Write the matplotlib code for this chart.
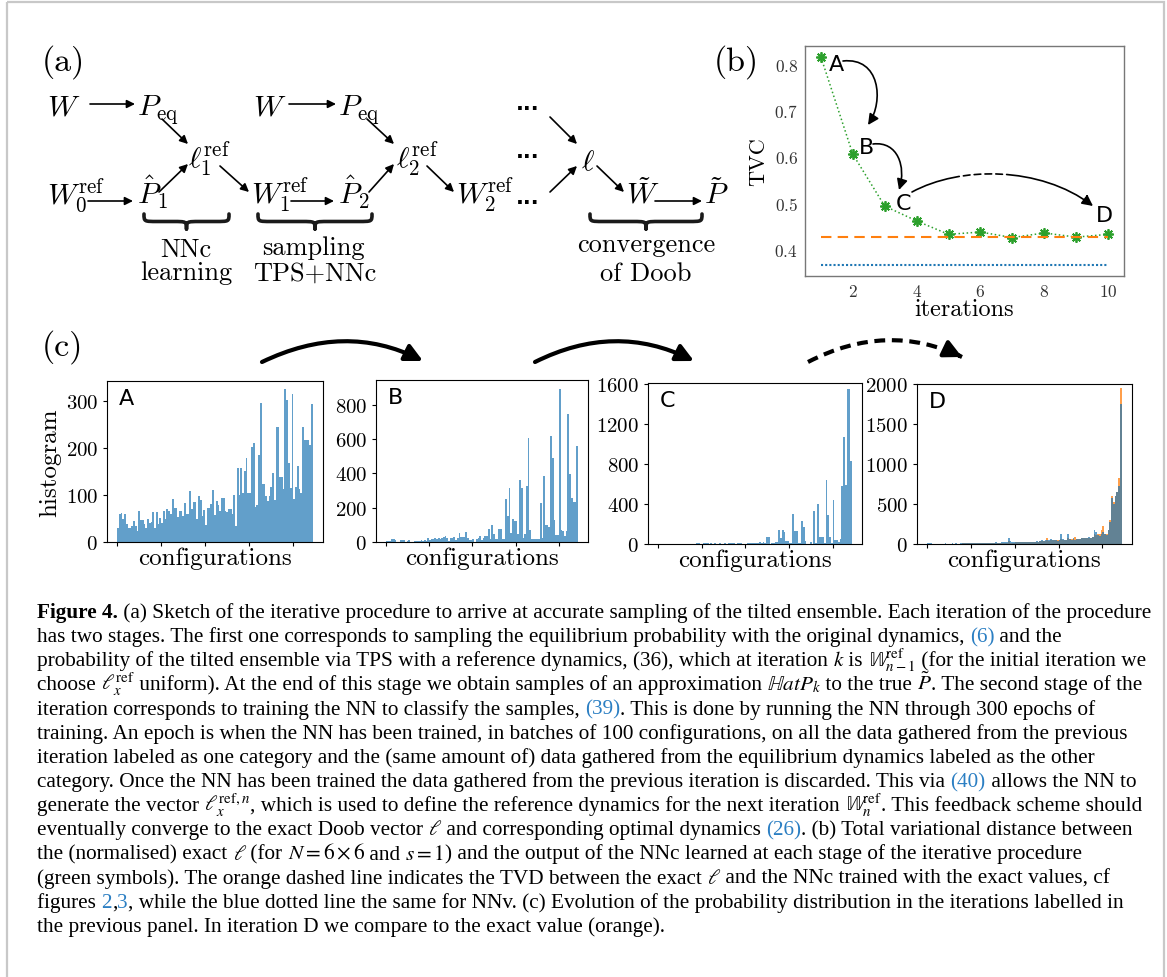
import numpy as np
import matplotlib.pyplot as plt
from matplotlib.patches import FancyArrowPatch, Rectangle, PathPatch
from matplotlib.path import Path

plt.rcParams['font.family'] = 'serif'
plt.rcParams['font.serif'] = ['cmr10', 'DejaVu Serif']
plt.rcParams['mathtext.fontset'] = 'cm'
plt.rcParams['axes.formatter.use_mathtext'] = True

# ---------------- data ----------------
iterations = np.arange(1, 11)
tvc = [0.815, 0.605, 0.493, 0.461, 0.432, 0.437, 0.425, 0.435, 0.426, 0.432]
tvd_nnc = 0.426
tvd_nnv = 0.365

hist_A = [30, 59, 62, 48, 59, 38, 29, 30, 34, 45,
          35, 23, 67, 46, 46, 38, 29, 50, 41, 43,
          63, 30, 63, 38, 52, 40, 65, 48, 70, 66,
          59, 91, 73, 73, 54, 66, 66, 55, 84, 59,
          60, 108, 70, 85, 85, 48, 98, 89, 55, 68,
          36, 72, 72, 82, 110, 57, 87, 78, 66, 94,
          94, 67, 63, 70, 70, 60, 100, 35, 157, 101,
          157, 104, 152, 180, 104, 105, 202, 210, 74, 78,
          185, 296, 123, 123, 99, 87, 99, 118, 146, 89,
          245, 245, 138, 138, 113, 326, 303, 169, 116, 316,
          91, 117, 162, 113, 105, 245, 217, 217, 218, 206,
          293]

hist_B = [5, 5, 5, 17, 17, 12, 2, 2, 10, 10,
          10, 2, 4, 10, 2, 2, 6, 6, 6, 6,
          12, 6, 12, 6, 21, 12, 17, 17, 23, 17,
          23, 17, 23, 29, 33, 21, 6, 21, 21, 29,
          10, 25, 54, 27, 27, 27, 56, 23, 10, 10,
          17, 2, 17, 23, 33, 10, 21, 33, 33, 74,
          17, 97, 45, 17, 17, 74, 74, 17, 16, 249,
          150, 313, 50, 132, 120, 120, 47, 363, 313, 21,
          45, 324, 604, 68, 16, 16, 16, 16, 16, 225,
          25, 383, 101, 101, 87, 616, 491, 128, 39, 39,
          895, 68, 64, 33, 64, 744, 398, 254, 233, 233,
          559]

hist_C = [0, 0, 0, 0, 0, 0, 0, 0, 0, 0,
          0, 0, 0, 0, 0, 0, 0, 0, 0, 0,
          0, 0, 8, 8, 5, 0, 10, 8, 10, 5,
          8, 5, 8, 0, 5, 10, 0, 5, 8, 5,
          8, 12, 15, 8, 5, 10, 8, 8, 3, 5,
          5, 8, 10, 12, 8, 8, 8, 12, 20, 10,
          25, 8, 67, 67, 5, 8, 10, 25, 20, 143,
          60, 143, 120, 30, 30, 10, 8, 303, 127, 127,
          10, 10, 233, 167, 27, 3, 3, 25, 3, 333,
          8, 403, 73, 73, 67, 10, 643, 293, 73, 8,
          443, 43, 43, 17, 53, 577, 1067, 593, 1553, 1553,
          833]

hist_D = [10, 10, 10, 0, 0, 0, 0, 5, 5, 5,
          10, 5, 5, 5, 10, 5, 10, 5, 5, 10,
          10, 10, 15, 10, 10, 15, 10, 10, 15, 10,
          10, 15, 15, 10, 10, 15, 15, 10, 15, 20,
          15, 15, 20, 20, 25, 30, 80, 40, 20, 20,
          20, 25, 25, 20, 25, 30, 20, 25, 30, 30,
          25, 30, 35, 30, 40, 45, 40, 45, 50, 45,
          60, 45, 55, 50, 40, 50, 130, 60, 50, 55,
          120, 60, 55, 70, 50, 60, 65, 60, 70, 75,
          80, 75, 90, 70, 85, 170, 150, 110, 100, 120,
          150, 120, 110, 170, 280, 580, 500, 600, 650, 730,
          1750]

exact_D = [5, 5, 5, 5, 5, 5, 5, 5, 5, 5,
           5, 5, 5, 5, 5, 5, 5, 5, 5, 5,
           8, 8, 8, 8, 8, 8, 8, 8, 8, 8,
           10, 10, 10, 10, 10, 10, 10, 10, 10, 12,
           12, 12, 12, 15, 15, 15, 40, 15, 15, 15,
           20, 20, 20, 20, 20, 25, 25, 25, 25, 25,
           30, 30, 30, 30, 35, 35, 40, 40, 75, 40,
           45, 45, 50, 50, 50, 50, 60, 55, 55, 55,
           70, 60, 60, 60, 90, 65, 65, 65, 70, 70,
           75, 80, 80, 80, 90, 120, 110, 130, 130, 180,
           230, 130, 120, 170, 300, 600, 520, 600, 650, 820,
           1950]

hist_panels = [('A', hist_A, [0, 100, 200, 300], 343),
               ('B', hist_B, [0, 200, 400, 600, 800], 945),
               ('C', hist_C, [0, 400, 800, 1200, 1600], 1610),
               ('D', hist_D, [0, 500, 1000, 1500, 2000], 2000)]

# ---------------- figure ----------------
W, H = 1167, 978
fig = plt.figure(figsize=(W / 100, H / 100), dpi=100)

# pixel overlay for sketch, arrows and caption
ax0 = fig.add_axes([0, 0, 1, 1])
ax0.set_xlim(0, W)
ax0.set_ylim(H, 0)
ax0.axis('off')
ax0.add_patch(Rectangle((7, 3), 1157, 990, fill=False, ec='#c8c8c8', lw=1.6))


def px_axes(l, t, r, b):
    return fig.add_axes([l / W, 1 - b / H, (r - l) / W, (b - t) / H])


def arr(x1, y1, x2, y2, ms=12, lw=1.2):
    ax0.add_patch(FancyArrowPatch((x1, y1), (x2, y2), arrowstyle='-|>',
                                  mutation_scale=ms, lw=lw, color='k',
                                  shrinkA=0, shrinkB=0))


def mtxt(x, y, s, size=21.5):
    ax0.text(x, y, s, fontsize=size, ha='left', va='baseline')


def brace(x0, x1, y, h=15, lw=2.6):
    xm = (x0 + x1) / 2
    q = h * 0.9
    yh = y + h / 2
    verts = [(x0, y), (x0, yh), (x0, yh), (x0 + q, yh),
             (xm - q, yh),
             (xm, yh), (xm, yh), (xm, y + h),
             (xm, yh), (xm, yh), (xm + q, yh),
             (x1 - q, yh),
             (x1, yh), (x1, yh), (x1, y)]
    codes = [Path.MOVETO, Path.CURVE4, Path.CURVE4, Path.CURVE4,
             Path.LINETO,
             Path.CURVE4, Path.CURVE4, Path.CURVE4,
             Path.CURVE4, Path.CURVE4, Path.CURVE4,
             Path.LINETO,
             Path.CURVE4, Path.CURVE4, Path.CURVE4]
    ax0.add_patch(PathPatch(Path(verts, codes), fill=False, lw=lw, color='#1a1a1a',
                            capstyle='round', joinstyle='round'))


# ---------------- panel (a) ----------------
ax0.text(63, 62, '(a)', fontsize=24.5, ha='center', va='center')
r1, r2, r3 = 115, 168, 204

mtxt(47, r1, r'$W$')
arr(90, 105, 135, 105)
mtxt(137, r1, r'$P_{\mathrm{eq}}$')
arr(162, 120, 188, 145)
mtxt(188, r2, r'$\ell_1^{\mathrm{ref}}$')
mtxt(47, r3, r'$W_0^{\mathrm{ref}}$')
arr(88, 202, 133, 202)
mtxt(137, r3, r'$\hat{P}_1$')
arr(159, 193, 188, 165)
arr(220, 167, 249, 193)

mtxt(253, r1, r'$W$')
arr(289, 105, 336, 105)
mtxt(338, r1, r'$P_{\mathrm{eq}}$')
arr(367, 120, 394, 145)
mtxt(396, r2, r'$\ell_2^{\mathrm{ref}}$')
mtxt(251, r3, r'$W_1^{\mathrm{ref}}$')
arr(291, 202, 334, 202)
mtxt(338, r3, r'$\hat{P}_2$')
arr(369, 193, 394, 165)
arr(427, 167, 454, 193)
mtxt(456, r3, r'$W_2^{\mathrm{ref}}$')

for yd in (104, 152, 198):
    ax0.text(528, yd, '...', fontsize=15, fontweight='bold', family='DejaVu Sans',
             ha='center', va='center')
arr(550, 118, 577, 145)
arr(550, 193, 577, 167)
mtxt(581, 170, r'$\ell$')
arr(597, 167, 624, 193)
mtxt(626, r3, r'$\tilde{W}$')
arr(655, 202, 702, 202)
mtxt(704, r3, r'$\tilde{P}$')

brace(144, 229, 215)
brace(258, 372, 215)
brace(590, 702, 215)
ax0.text(186, 250, 'NNc', fontsize=19, ha='center', va='center')
ax0.text(186, 273, 'learning', fontsize=19, ha='center', va='center')
ax0.text(313, 248, 'sampling', fontsize=19, ha='center', va='center')
ax0.text(315, 274, 'TPS+NNc', fontsize=19, ha='center', va='center')
ax0.text(646, 245, 'convergence', fontsize=19, ha='center', va='center')
ax0.text(646, 274, 'of Doob', fontsize=19, ha='center', va='center')

# ---------------- panel (b) ----------------
ax0.text(736, 62, '(b)', fontsize=24.5, ha='center', va='center')
axb = px_axes(805, 47, 1124, 277)
axb.set_facecolor('none')
axb.plot(iterations, tvc, ':', color='#2ca02c', lw=1.1)
axb.plot(iterations, tvc, ls='none', marker=(8, 2, 0), color='#2ca02c', ms=7.5, mew=1.3)
axb.hlines(tvd_nnc, iterations[0], iterations[-1], color='#ff7f0e', lw=1.5,
           linestyles=(0, (5, 3)))
axb.hlines(tvd_nnv, iterations[0], iterations[-1], color='#1f77b4', lw=1.5,
           linestyles=(0, (1, 1)))
axb.set_xlim(0.5, 10.5)
axb.set_ylim(0.342, 0.839)
axb.set_xticks([2, 4, 6, 8, 10])
axb.set_yticks([0.4, 0.5, 0.6, 0.7, 0.8])
axb.tick_params(length=0, labelsize=12.5, labelcolor='#333333', pad=5)
for s in axb.spines.values():
    s.set_color('#777777')
    s.set_linewidth(1.0)
axb.set_xlabel('iterations', fontsize=17.5, labelpad=-1)
axb.set_ylabel('TVC', fontsize=16, labelpad=4)
for lab, x, y in [('A', 1.48, 0.80), ('B', 2.44, 0.62), ('C', 3.58, 0.50), ('D', 9.9, 0.473)]:
    axb.text(x, y, lab, fontsize=16, family='DejaVu Sans', ha='center', va='center')


def curve_arrow(pts, lw=1.2, ms=16, ls='-'):
    codes = [Path.MOVETO] + [Path.CURVE4] * 3
    ax0.add_patch(FancyArrowPatch(path=Path(pts, codes), arrowstyle='-|>',
                                  mutation_scale=ms, lw=lw, color='k', linestyle=ls))


curve_arrow([(843, 62), (880, 58), (884, 102), (868, 126)])
curve_arrow([(873, 145), (898, 142), (906, 168), (899, 191)])
curve_arrow([(912, 193), (960, 167), (1040, 167), (1093, 207)],
            ls=(0, (30, 2.5, 4, 2.5, 4, 2.5, 4, 2.5, 4, 2.5, 170, 1)))

# ---------------- panel (c) ----------------
ax0.text(62, 347, '(c)', fontsize=24.5, ha='center', va='center')
boxes = [(107, 382, 323, 543), (376, 381, 588, 543),
         (648, 384, 862, 545), (917, 385, 1132, 545)]
for (lab, vals, yt, ytop), box in zip(hist_panels, boxes):
    ax = px_axes(*box)
    n = len(vals)
    x = np.arange(n)
    if lab == 'D':
        ax.bar(x, exact_D, width=1, align='edge', color='#ff7f0e', alpha=0.75, lw=0)
        ax.bar(x, vals, width=1, align='edge', color='#1f77b4', alpha=0.7, lw=0)
    else:
        ax.bar(x, vals, width=1, align='edge', color='#1f77b4', alpha=0.7, lw=0)
    ax.set_xlim(-0.052 * n, 1.053 * n)
    ax.set_ylim(0, ytop)
    ax.set_yticks(yt)
    ax.set_xticks([0, 25, 50, 75, 100])
    ax.tick_params(labelsize=15, direction='out', length=3, labelbottom=False)
    ax.set_xlabel('configurations', fontsize=18, labelpad=0)
    if lab == 'A':
        ax.set_ylabel('histogram', fontsize=18, labelpad=3)
    ax.text(0.055, 0.955, lab, transform=ax.transAxes, fontsize=16,
            family='DejaVu Sans', ha='left', va='top')


def big_arrow(p0, c, p2, dashed=False):
    if not dashed:
        ax0.add_patch(FancyArrowPatch(path=Path([p0, c, p2], [Path.MOVETO, Path.CURVE3, Path.CURVE3]),
                                      arrowstyle='-|>', mutation_scale=26, lw=3, color='k'))
    else:
        ax0.add_patch(PathPatch(Path([p0, c, p2], [Path.MOVETO, Path.CURVE3, Path.CURVE3]),
                                fill=False, lw=3, color='k', linestyle=(0, (2.6, 1.6))))
        d = np.array(p2) - np.array(c)
        d = d / np.hypot(*d)
        ax0.add_patch(FancyArrowPatch(tuple(np.array(p2) - 3 * d), p2, arrowstyle='-|>',
                                      mutation_scale=26, lw=3, color='k',
                                      shrinkA=0, shrinkB=0))


big_arrow((262, 363), (345, 323), (423, 362))
big_arrow((535, 363), (615, 323), (694, 362))
big_arrow((808, 363), (887, 322), (962, 358), dashed=True)

# ---------------- caption ----------------
CAP_FONT = 'Liberation Serif'
LINK = '#2b7fc3'
K, N, B = 'k', 'normal', 'bold'
caption = [
    [('Figure 4.', K, B),
     (' (a) Sketch of the iterative procedure to arrive at accurate sampling of the tilted ensemble. Each iteration of the procedure', K, N)],
    [('has two stages. The first one corresponds to sampling the equilibrium probability with the original dynamics, ', K, N),
     ('(6)', LINK, N), (' and the', K, N)],
    [('probability of the tilted ensemble via TPS with a reference dynamics, (36), which at iteration ', K, N),
     ('$k$', K, N), (' is ', K, N), ('$\\mathbb{W}^{\\mathrm{ref}}_{n-1}$', K, N),
     (' (for the initial iteration we', K, N)],
    [('choose ', K, N), ('$\\ell_x^{\\mathrm{ref}}$', K, N),
     (' uniform). At the end of this stage we obtain samples of an approximation ', K, N),
     ('$\\mathbb{H}atP_k$', K, N), (' to the true ', K, N), ('$\\tilde{P}$', K, N),
     ('. The second stage of the', K, N)],
    [('iteration corresponds to training the NN to classify the samples, ', K, N),
     ('(39)', LINK, N), ('. This is done by running the NN through 300 epochs of', K, N)],
    [('training. An epoch is when the NN has been trained, in batches of 100 configurations, on all the data gathered from the previous', K, N)],
    [('iteration labeled as one category and the (same amount of) data gathered from the equilibrium dynamics labeled as the other', K, N)],
    [('category. Once the NN has been trained the data gathered from the previous iteration is discarded. This via ', K, N),
     ('(40)', LINK, N), (' allows the NN to', K, N)],
    [('generate the vector ', K, N), ('$\\ell_x^{\\mathrm{ref},n}$', K, N),
     (', which is used to define the reference dynamics for the next iteration ', K, N),
     ('$\\mathbb{W}_n^{\\mathrm{ref}}$', K, N), ('. This feedback scheme should', K, N)],
    [('eventually converge to the exact Doob vector ', K, N), ('$\\ell$', K, N),
     (' and corresponding optimal dynamics ', K, N),
     ('(26)', LINK, N), ('. (b) Total variational distance between', K, N)],
    [('the (normalised) exact ', K, N), ('$\\ell$', K, N), (' (for ', K, N),
     ('$N=6\\times 6$', K, N), (' and ', K, N), ('$s=1$', K, N),
     (') and the output of the NNc learned at each stage of the iterative procedure', K, N)],
    [('(green symbols). The orange dashed line indicates the TVD between the exact ', K, N),
     ('$\\ell$', K, N), (' and the NNc trained with the exact values, cf', K, N)],
    [('figures ', K, N), ('2', LINK, N), (',', K, N), ('3', LINK, N),
     (', while the blue dotted line the same for NNv. (c) Evolution of the probability distribution in the iterations labelled in', K, N)],
    [('the previous panel. In iteration D we compare to the exact value (orange).', K, N)],
]

renderer = fig.canvas.get_renderer()


def seg_width(s, size, weight):
    a = ax0.text(0, 0, '|' + s + '|', fontsize=size, fontweight=weight,
                 family=[CAP_FONT], math_fontfamily='stix')
    b = ax0.text(0, 0, '||', fontsize=size, fontweight=weight,
                 family=[CAP_FONT], math_fontfamily='stix')
    w = a.get_window_extent(renderer).width - b.get_window_extent(renderer).width
    a.remove()
    b.remove()
    return w


base = 13.0
w1 = sum(seg_width(s, base, wt) for s, c, wt in caption[0])
cap_size = base * (1150 - 37) / w1

for i, line in enumerate(caption):
    xx = 37
    yy = 618 + 24.15 * i
    for s, c, wt in line:
        ax0.text(xx, yy, s, fontsize=cap_size, fontweight=wt, color=c,
                 family=[CAP_FONT], math_fontfamily='stix', ha='left', va='baseline')
        xx += seg_width(s, cap_size, wt)

fig.savefig('out.png', dpi=100)
